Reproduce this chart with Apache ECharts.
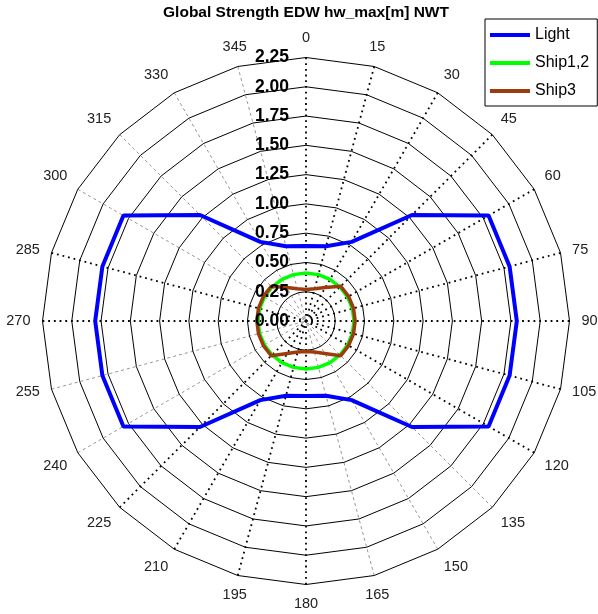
<!DOCTYPE html>
<html>
<head>
<meta charset="utf-8">
<title>Global Strength EDW hw_max[m] NWT</title>
<script src="https://cdn.jsdelivr.net/npm/echarts@6/dist/echarts.min.js"></script>
<style>
  html, body { margin: 0; padding: 0; background: #fff; }
  #chart { width: 598px; height: 614px; }
</style>
</head>
<body>
<div id="chart"></div>
<script>
// Heading directions (deg, clockwise from North) and max wave height per loading case
const headings = [0, 15, 30, 45, 60, 75, 90, 105, 120, 135, 150, 165,
                  180, 195, 210, 225, 240, 255, 270, 285, 300, 315, 330, 345];
const lightHw  = [0.64, 0.66, 0.78, 1.28, 1.80, 1.80, 1.80, 1.80, 1.80, 1.28, 0.78, 0.66,
                  0.64, 0.66, 0.78, 1.28, 1.80, 1.80, 1.80, 1.80, 1.80, 1.28, 0.78, 0.66];
const ship12Hw = [0.41, 0.41, 0.41, 0.41, 0.41, 0.41, 0.41, 0.41, 0.41, 0.41, 0.41, 0.41,
                  0.41, 0.41, 0.41, 0.41, 0.41, 0.41, 0.41, 0.41, 0.41, 0.41, 0.41, 0.41];
const ship3Hw  = [0.27, 0.285, 0.33, 0.42, 0.42, 0.42, 0.42, 0.42, 0.42, 0.42, 0.32, 0.275,
                  0.26, 0.275, 0.32, 0.42, 0.42, 0.42, 0.42, 0.42, 0.42, 0.42, 0.33, 0.285];
const seriesNames = ['Light', 'Ship1,2', 'Ship3'];
const radiusMax = 2.25;
const radiusStep = 0.25;
const headingStep = 15;

const FONT = '"Liberation Sans", Arial, Helvetica, sans-serif';
const CENTER = [306, 321];
const RADIUS = 263.5;

// closed polygon in [radius, angle] pairs
function polarData(values) {
  const pts = headings.map((h, i) => [values[i], h]);
  pts.push([values[0], 360]);
  return pts;
}

// spokes: heavy dotted ones and light dashed ones (index = tick 0..360)
const heavy = new Set([0, 1, 2, 3, 4, 5, 6, 7, 8, 12, 13, 14, 15, 18, 19, 24]);
const heavyColors = [], lightColors = [];
for (let i = 0; i <= 24; i++) {
  heavyColors.push(heavy.has(i) ? '#000' : 'transparent');
  lightColors.push(heavy.has(i) ? 'transparent' : '#7a7a7a');
}

const chart = echarts.init(document.getElementById('chart'), null, { renderer: 'canvas' });
chart.setOption({
  backgroundColor: '#fff',
  animation: false,
  title: {
    text: 'Global Strength EDW hw_max[m] NWT',
    left: 306,
    top: 5,
    textAlign: 'center',
    padding: 0,
    textStyle: { fontFamily: FONT, fontSize: 15.5, fontWeight: 'bold', color: '#000' }
  },
  legend: {
    data: seriesNames,
    orient: 'vertical',
    left: 485,
    top: 19,
    padding: [8, 8, 7, 5],
    itemGap: 12,
    itemWidth: 40,
    itemHeight: 4,
    icon: 'rect',
    borderColor: '#000',
    borderWidth: 1,
    borderRadius: 0,
    backgroundColor: '#fff',
    textStyle: { fontFamily: FONT, fontSize: 16, color: '#000' }
  },
  radar: {
    center: CENTER,
    radius: RADIUS,
    startAngle: 90,
    shape: 'polygon',
    splitNumber: Math.round(radiusMax / radiusStep),
    indicator: headings.map(() => ({ name: '', min: 0, max: radiusMax })),
    axisName: { show: false },
    axisLine: { show: false },
    axisTick: { show: false },
    axisLabel: { show: false },
    splitArea: { show: false },
    splitLine: { lineStyle: { color: '#000', width: 1 } },
    z: 0
  },
  polar: [
    { center: CENTER, radius: RADIUS },
    { center: CENTER, radius: RADIUS }
  ],
  angleAxis: [
    {
      polarIndex: 0, type: 'value', min: 0, max: 360, interval: headingStep,
      startAngle: 90, clockwise: true,
      axisLine: { show: false }, axisTick: { show: false },
      axisLabel: {
        margin: 12,
        fontFamily: FONT, fontSize: 14.5, color: '#222',
        formatter: v => (v >= 360 ? '' : String(v))
      },
      splitLine: { show: true, lineStyle: { color: heavyColors, width: 1.8, type: [1.8, 3.9] } }
    },
    {
      polarIndex: 1, type: 'value', min: 0, max: 360, interval: headingStep,
      startAngle: 90, clockwise: true,
      axisLine: { show: false }, axisTick: { show: false }, axisLabel: { show: false },
      splitLine: { show: true, lineStyle: { color: lightColors, width: 0.8, type: [3, 3] } }
    }
  ],
  radiusAxis: [
    {
      polarIndex: 0, type: 'value', min: 0, max: radiusMax, interval: radiusStep,
      axisLine: { show: false }, axisTick: { show: false }, splitLine: { show: false },
      axisLabel: {
        margin: 17,
        fontFamily: FONT, fontSize: 17.5, fontWeight: 'bold', color: '#000',
        formatter: v => v.toFixed(2)
      },
      z: 5
    },
    {
      polarIndex: 1, type: 'value', min: 0, max: radiusMax, interval: radiusStep,
      axisLine: { show: false }, axisTick: { show: false }, splitLine: { show: false },
      axisLabel: { show: false }
    }
  ],
  series: [
    {
      name: seriesNames[0], type: 'line', coordinateSystem: 'polar', polarIndex: 0,
      data: polarData(lightHw), symbol: 'none', smooth: false,
      lineStyle: { color: '#0000ff', width: 4 }, itemStyle: { color: '#0000ff' }, z: 3
    },
    {
      name: seriesNames[1], type: 'line', coordinateSystem: 'polar', polarIndex: 0,
      data: polarData(ship12Hw), symbol: 'none', smooth: false,
      lineStyle: { color: '#00ff00', width: 3.5 }, itemStyle: { color: '#00ff00' }, z: 3
    },
    {
      name: seriesNames[2], type: 'line', coordinateSystem: 'polar', polarIndex: 0,
      data: polarData(ship3Hw), symbol: 'none', smooth: false,
      lineStyle: { color: '#9c3c0e', width: 3.5 }, itemStyle: { color: '#9c3c0e' }, z: 3
    }
  ]
});
</script>
</body>
</html>
